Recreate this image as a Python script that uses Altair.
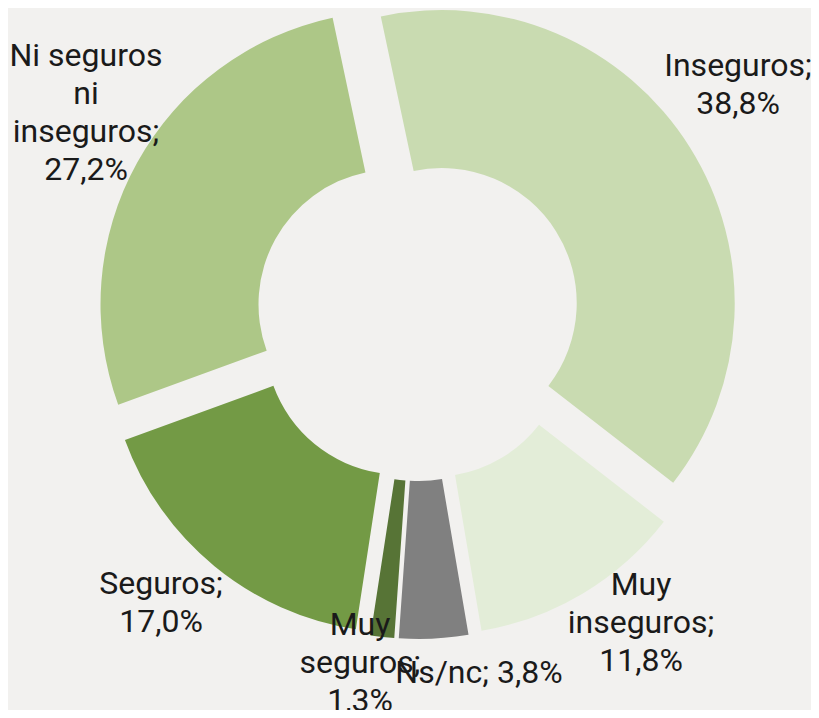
import math
import altair as alt
import pandas as pd

# ---- data ----
categories = ["Inseguros", "Muy inseguros", "Ns/nc", "Muy seguros", "Seguros",
              "Ni seguros ni inseguros"]
values = [38.8, 11.8, 3.8, 1.3, 17.0, 27.2]
labels = ["Inseguros;\n38,8%", "Muy\ninseguros;\n11,8%", "Ns/nc; 3,8%",
          "Muy\nseguros;\n1,3%", "Seguros;\n17,0%", "Ni seguros\nni\ninseguros;\n27,2%"]

# ---- style / layout ----
colors = ["#c9dbb1", "#e3edd8", "#808080", "#577436", "#739a45", "#adc787"]
label_x = [730, 633, 471, 352, 153, 78]
label_y = [68, 587, 675, 627, 586, 58]
CX, CY = 410, 310
EXPLODE = 28
START = -12 * math.pi / 180
R_OUT, R_IN = 293, 135
W, H = 803, 702
BG = "#f2f1ef"

df = pd.DataFrame({
    "category": categories,
    "value": values,
    "label": labels,
    "order": list(range(len(categories))),
    "lx": label_x,
    "ly": label_y,
})

base = alt.Chart(df)

arcs = (
    base.transform_window(cum="sum(value)", sort=[alt.SortField("order")], frame=[None, 0])
    .transform_joinaggregate(total="sum(value)")
    .transform_calculate(
        t0=f"{START} + 2*PI*(datum.cum - datum.value)/datum.total",
        t1=f"{START} + 2*PI*datum.cum/datum.total",
    )
    .transform_calculate(mid="(datum.t0 + datum.t1)/2")
    .transform_calculate(
        px=f"{CX} + {EXPLODE}*sin(datum.mid)",
        py=f"{CY} - {EXPLODE}*cos(datum.mid)",
    )
    .mark_arc(innerRadius=R_IN, outerRadius=R_OUT, stroke=None)
    .encode(
        x=alt.X("px:Q", scale=None, axis=None),
        y=alt.Y("py:Q", scale=None, axis=None),
        theta=alt.Theta("t0:Q", scale=None, stack=False),
        theta2="t1:Q",
        color=alt.Color("category:N",
                        scale=alt.Scale(domain=categories, range=colors),
                        legend=None),
    )
)

texts = base.mark_text(
    font="Roboto", fontSize=32, lineBreak="\n", lineHeight=38,
    align="center", baseline="alphabetic", color="#1a1a1a",
).encode(
    x=alt.X("lx:Q", scale=None, axis=None),
    y=alt.Y("ly:Q", scale=None, axis=None),
    text="label:N",
)

chart = (
    alt.layer(arcs, texts)
    .properties(width=W, height=H, padding=0, background=BG,
                autosize=alt.AutoSizeParams(type="none"))
    .configure_view(stroke=None)
)

chart.save("out.html", embed_options={"renderer": "svg", "actions": False})
